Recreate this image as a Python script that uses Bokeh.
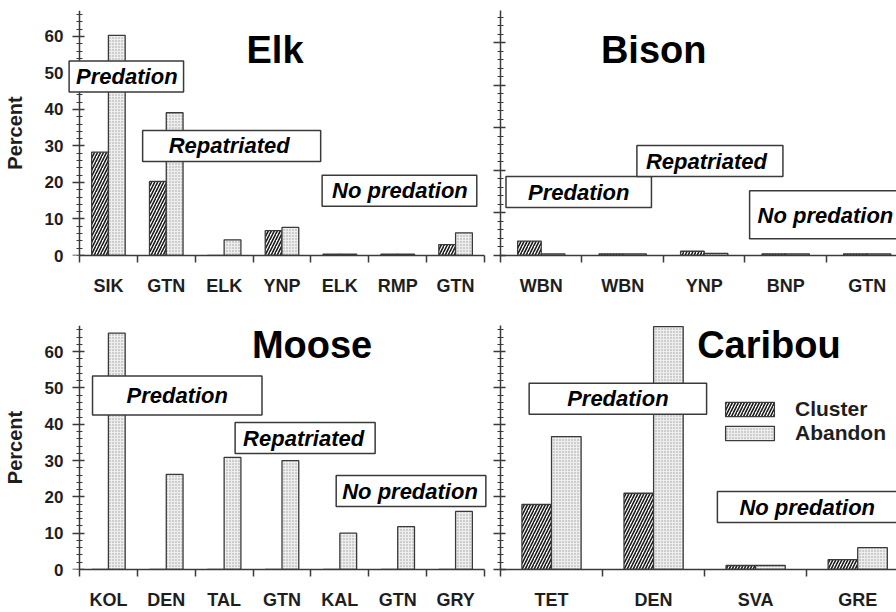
from bokeh.plotting import figure
from bokeh.models import (FixedTicker, SingleIntervalTicker, Range1d, Label, Legend,
                          LegendItem, LinearAxis)
from bokeh.layouts import column, row
from bokeh.embed import file_html
from bokeh.resources import INLINE

# ---------------- data ----------------
elk_sites = ["SIK", "GTN", "ELK", "YNP", "ELK", "RMP", "GTN"]
elk_cluster = [28.3, 20.3, 0, 6.8, 0.4, 0.4, 3.0]
elk_abandon = [60.3, 39.1, 4.3, 7.7, 0.4, 0.4, 6.2]

bison_sites = ["WBN", "WBN", "YNP", "BNP", "GTN"]
bison_cluster = [3.4, 0.4, 1.0, 0.4, 0.4]
bison_abandon = [0.4, 0.4, 0.5, 0.4, 0.4]

moose_sites = ["KOL", "DEN", "TAL", "GTN", "KAL", "GTN", "GRY"]
moose_cluster = [0, 0, 0, 0, 0, 0, 0]
moose_abandon = [65.1, 26.2, 30.9, 30.0, 10.0, 11.8, 16.0]

caribou_sites = ["TET", "DEN", "SVA", "GRE"]
caribou_cluster = [17.9, 21.0, 1.1, 2.7]
caribou_abandon = [36.6, 66.9, 1.1, 6.0]

series_names = ["Cluster", "Abandon"]

FONT = "Liberation Sans"
INK = "#1e1e1e"
LINE = "#3a3a3a"

CL_STYLE = dict(fill_color="white", hatch_pattern="/", hatch_color="#1a1a1a",
                hatch_scale=6, hatch_weight=1.6, line_color=LINE, line_width=1.3)
AB_STYLE = dict(fill_color="#eeeeee", hatch_pattern=".", hatch_color="#9a9a9a",
                hatch_scale=3, hatch_weight=1, line_color=LINE, line_width=1.3)


def style_line_axis(ax):
    """Axis line and ticks, no visible labels."""
    ax.ticker = SingleIntervalTicker(interval=10, num_minor_ticks=5)
    ax.major_tick_in = 5
    ax.major_tick_out = 7
    ax.minor_tick_in = 3
    ax.minor_tick_out = 3
    ax.major_tick_line_color = LINE
    ax.minor_tick_line_color = LINE
    ax.major_tick_line_width = 1.5
    ax.minor_tick_line_width = 1.2
    ax.axis_line_color = LINE
    ax.axis_line_width = 1.5
    ax.major_label_standoff = 0
    ax.major_label_text_font_size = "17px"
    ax.major_label_overrides = {v: "" for v in range(0, 80, 10)}


def make_panel(sites, cluster, abandon, x_lo, x_hi, y_end, width, height,
               b_left, b_top, b_bottom, b_right, with_labels):
    n = len(sites)
    p = figure(width=width, height=height,
               x_range=Range1d(x_lo, x_hi), y_range=Range1d(0, y_end),
               output_backend="svg", toolbar_location=None,
               min_border_left=b_left, min_border_top=b_top,
               min_border_bottom=b_bottom, min_border_right=b_right)
    p.xgrid.visible = False
    p.ygrid.visible = False
    p.outline_line_color = None
    p.background_fill_color = "white"
    p.border_fill_color = "white"

    xs = list(range(1, n + 1))
    rc = p.vbar(x=[x - 0.145 for x in xs], top=cluster, bottom=0, width=0.29, **CL_STYLE)
    ra = p.vbar(x=[x + 0.145 for x in xs], top=abandon, bottom=0, width=0.29, **AB_STYLE)

    xa = p.xaxis[0]
    xa.ticker = FixedTicker(ticks=xs, minor_ticks=[i + 0.5 for i in range(n + 1)])
    xa.major_label_overrides = {x: s for x, s in zip(xs, sites)}
    xa.bounds = (0.5, n + 0.5)
    xa.major_tick_in = 0
    xa.major_tick_out = 0
    xa.minor_tick_in = 0
    xa.minor_tick_out = 7
    xa.minor_tick_line_color = LINE
    xa.minor_tick_line_width = 1.5
    xa.major_label_standoff = 13
    xa.major_label_text_font = FONT
    xa.major_label_text_font_style = "bold"
    xa.major_label_text_font_size = "18px"
    xa.major_label_text_color = INK
    xa.axis_line_color = LINE
    xa.axis_line_width = 1.5

    ya = p.yaxis[0]
    if with_labels:
        # outer axis carries only the tick labels and the axis title
        ya.ticker = SingleIntervalTicker(interval=10, num_minor_ticks=5)
        ya.axis_line_color = None
        ya.major_tick_line_color = None
        ya.minor_tick_line_color = None
        ya.major_tick_out = 0
        ya.major_tick_in = 0
        ya.minor_tick_out = 0
        ya.minor_tick_in = 0
        ya.major_label_text_font = FONT
        ya.major_label_text_font_style = "bold"
        ya.major_label_text_font_size = "17px"
        ya.major_label_text_color = INK
        ya.major_label_standoff = 4
        ya.axis_label = "Percent"
        ya.axis_label_text_font = FONT
        ya.axis_label_text_font_style = "bold"
        ya.axis_label_text_font_size = "20px"
        ya.axis_label_text_color = INK
        ya.axis_label_standoff = 16
        # the axis line itself sits at the left edge of the first site
        line_ax = LinearAxis(fixed_location=0.5)
        style_line_axis(line_ax)
        p.add_layout(line_ax, "left")
    else:
        style_line_axis(ya)
    return p, rc, ra


def title(p, text, x, y):
    p.add_layout(Label(x=x, y=y, text=text, text_align="center", text_baseline="middle",
                       text_font=FONT, text_font_style="bold", text_font_size="38px",
                       text_color="black"))


def box(p, text, x, y, left, right, top, bottom):
    p.add_layout(Label(x=x, y=y, text=text, text_align="center", text_baseline="middle",
                       text_font=FONT, text_font_style="bold italic", text_font_size="22px",
                       text_color="black", background_fill_color="white",
                       border_line_color=LINE, border_line_width=1.5,
                       padding=dict(left=left, right=right, top=top, bottom=bottom)))


# left panels: 58 px per site, frame widened by 12 px left / 4 px right of the axes
L_LO, L_HI = 0.5 - 12 / 58, 7.5 + 4 / 58

# Elk (top left)
p_elk, _, _ = make_panel(elk_sites, elk_cluster, elk_abandon, L_LO, L_HI, 67.1,
                         492, 300, 66, 10, 45, 4, True)
title(p_elk, "Elk", 3.88, 56.2)
box(p_elk, "Predation", 1.31, 49.0, 7, 6, 3, 3)
box(p_elk, "Repatriated", 3.13, 30.0, 26, 31, 3, 3)
box(p_elk, "No predation", 6.03, 17.7, 10, 9, 3, 3)

# Bison (top right)
p_bison, _, _ = make_panel(bison_sites, bison_cluster, bison_abandon, 0.5, 0.5 + 4.86, 57.6,
                           404, 300, 8, 10, 45, 0, False)
title(p_bison, "Bison", 2.38, 48.2)
box(p_bison, "Predation", 1.46, 14.9, 22, 22, 3, 3)
box(p_bison, "Repatriated", 3.07, 22.2, 9, 16, 3, 3)
box(p_bison, "No predation", 4.50, 9.6, 8, 10, 12, 11)

# Moose (bottom left)
p_moose, _, _ = make_panel(moose_sites, moose_cluster, moose_abandon, L_LO, L_HI, 67.2,
                           492, 312, 66, 25, 43, 4, True)
title(p_moose, "Moose", 4.52, 61.7)
box(p_moose, "Predation", 2.19, 47.9, 34, 34, 7, 7)
box(p_moose, "Repatriated", 4.40, 36.2, 8, 11, 3, 3)
box(p_moose, "No predation", 6.23, 21.6, 6, 8, 3, 3)

# Caribou (bottom right)
p_car, rc, ra = make_panel(caribou_sites, caribou_cluster, caribou_abandon, 0.5, 0.5 + 3.88, 67.2,
                           404, 312, 8, 25, 43, 0, False)
title(p_car, "Caribou", 3.13, 61.7)
box(p_car, "Predation", 1.65, 47.0, 38, 38, 3, 3)
box(p_car, "No predation", 3.52, 17.2, 22, 25, 3, 3)

legend = Legend(items=[LegendItem(label=series_names[0], renderers=[rc]),
                       LegendItem(label=series_names[1], renderers=[ra])],
                location=(219, 124), orientation="vertical",
                glyph_width=61, glyph_height=18, label_standoff=15, spacing=0,
                padding=0, margin=0, border_line_color=None, background_fill_alpha=0,
                label_text_font=FONT, label_text_font_style="bold",
                label_text_font_size="21px", label_text_color=INK,
                label_height=22)
p_car.add_layout(legend)

layout = column(row(p_elk, p_bison, spacing=0), row(p_moose, p_car, spacing=0), spacing=0)

open("out.html", "w").write(file_html(layout, INLINE))
